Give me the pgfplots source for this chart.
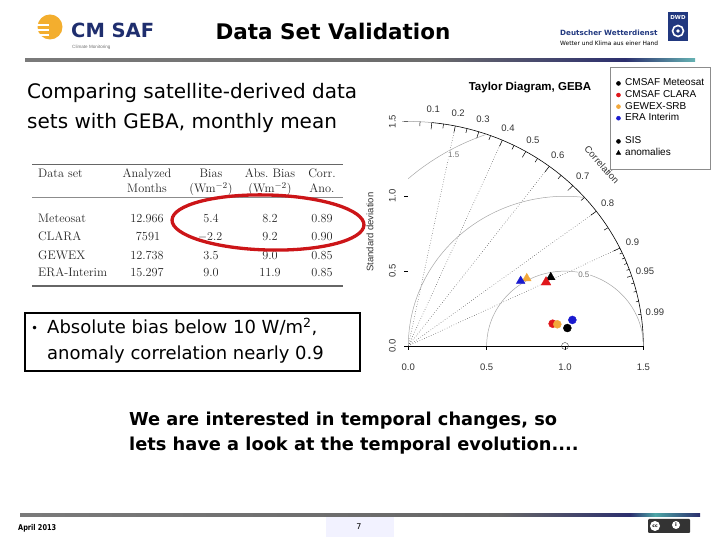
\documentclass[border=0pt]{standalone}
\usepackage{pgfplots}
\pgfplotsset{compat=1.18}
\usepackage{fontspec}
\newfontfamily\vsans{DejaVu Sans}
\newfontfamily\asans{Liberation Sans}
\definecolor{cmnavy}{HTML}{1F2E6E}
\definecolor{dwdblue}{HTML}{21387F}
\definecolor{sunorange}{HTML}{F3AE2E}
\definecolor{barnavy}{HTML}{2C2F6E}
\definecolor{tred}{HTML}{E0161B}
\definecolor{torange}{HTML}{F2A83A}
\definecolor{tblue}{HTML}{1A1ACF}
\definecolor{ellred}{HTML}{CC1518}

\begin{document}
\begin{tikzpicture}[x=1pt,y=1pt]
\path[use as bounding box] (0,0) rectangle (720,540);

% slide, drawn with y running down from the top edge
\begin{scope}[shift={(0,540)}, yscale=-1]
  % header
  \fill[sunorange] (50,27) circle (12.5);
  \foreach \yy in {24,29,34} \fill[white] (36,\yy) rectangle (49,{\yy+1.6});
  \node[anchor=base west, inner sep=0, text=cmnavy, font=\vsans\bfseries\fontsize{19.5}{20}\selectfont] at (71,37.5) {CM SAF};
  \node[anchor=base west, inner sep=0, text=black!55, font=\asans\fontsize{4.6}{5}\selectfont] at (72,49) {Climate Monitoring};
  \node[anchor=base, inner sep=0, font=\vsans\bfseries\fontsize{21.5}{22}\selectfont] at (333,40) {Data Set Validation};
  \node[anchor=base west, inner sep=0, text=dwdblue, font=\vsans\bfseries\fontsize{7.2}{8}\selectfont] at (560,36) {Deutscher Wetterdienst};
  \node[anchor=base west, inner sep=0, font=\vsans\fontsize{5.9}{6}\selectfont] at (560,45.5) {Wetter und Klima aus einer Hand};
  \fill[dwdblue] (668,12) rectangle (688,41);
  \node[inner sep=0, text=white, font=\vsans\bfseries\fontsize{5.5}{6}\selectfont] at (678,17.5) {DWD};
  \draw[white, line width=1.6pt] (678,31) circle (5.5);
  \fill[white] (678,31) circle (1.8);
  \shade[left color=black!52, right color=black!58] (25,58.5) rectangle (430,61.5);
  \shade[left color=black!58, right color=barnavy] (430,58.5) rectangle (625,61.5);
  \shade[left color=barnavy, right color=teal!60] (625,58.5) rectangle (695,61.5);

  % text on the left
  \node[anchor=base west, inner sep=0, font=\vsans\fontsize{20}{24}\selectfont] at (27,99) {Comparing satellite-derived data};
  \node[anchor=base west, inner sep=0, font=\vsans\fontsize{20}{24}\selectfont] at (27,129) {sets with GEBA, monthly mean};

  % table
  \draw[black!60, line width=1.2pt] (32,164.5) -- (343,164.5);
  \draw[black!45, line width=0.6pt] (32,197) -- (343,197);
  \draw[black!60, line width=1.2pt] (32,286) -- (343,286);
  \begin{scope}[every node/.style={inner sep=0, anchor=base, text=black!85, font=\fontsize{12.3}{14}\selectfont}]
    \node[anchor=base west] at (38,177.5) {Data set};
    \node at (147,177.5) {Analyzed};
    \node at (147,192.5) {Months};
    \node at (211,177.5) {Bias};
    \node at (211,192.5) {(Wm$^{-2}$)};
    \node at (270,177.5) {Abs.\ Bias};
    \node at (270,192.5) {(Wm$^{-2}$)};
    \node at (322,177.5) {Corr.};
    \node at (322,192.5) {Ano.};
    \node[anchor=base west] at (38,222.5) {Meteosat};
    \node[anchor=base west] at (38,241) {CLARA};
    \node[anchor=base west] at (38,259.3) {GEWEX};
    \node[anchor=base west] at (38,276.6) {ERA-Interim};
    \node at (147,222.5) {12.966};
    \node at (148,241) {7591};
    \node at (147,259.3) {12.738};
    \node at (147,276.6) {15.297};
    \node at (211,222.5) {5.4};
    \node at (210,241) {$-2.2$};
    \node at (211,259.3) {3.5};
    \node at (211,276.6) {9.0};
    \node at (270,222.5) {8.2};
    \node at (270,241) {9.2};
    \node at (270,259.3) {9.0};
    \node at (270,276.6) {11.9};
    \node at (322,222.5) {0.89};
    \node at (322,241) {0.90};
    \node at (322,259.3) {0.85};
    \node at (322,276.6) {0.85};
  \end{scope}
  \draw[ellred, line width=3.3pt] (268,222.5) ellipse [x radius=96pt, y radius=27.5pt, rotate=1.5];

  % bullet box
  \draw[black, line width=2pt] (25,313) rectangle (360,371);
  \node[anchor=base west, inner sep=0, font=\vsans\fontsize{12}{14}\selectfont] at (31,333) {•};
  \node[anchor=base west, inner sep=0, font=\vsans\fontsize{18}{22}\selectfont] at (47,333.5) {Absolute bias below 10 W/m\textsuperscript{2},};
  \node[anchor=base west, inner sep=0, font=\vsans\fontsize{18}{22}\selectfont] at (47,359.5) {anomaly correlation nearly 0.9};

  % bottom text
  \node[anchor=base west, inner sep=0, font=\vsans\bfseries\fontsize{17.8}{20}\selectfont] at (129,425.5) {We are interested in temporal changes, so};
  \node[anchor=base west, inner sep=0, font=\vsans\bfseries\fontsize{17.8}{20}\selectfont] at (129,450.5) {lets have a look at the temporal evolution....};

  % footer
  \shade[left color=black!52, right color=black!60] (20,514) rectangle (500,516.5);
  \shade[left color=black!60, right color=barnavy] (500,514) rectangle (630,516.5);
  \shade[left color=barnavy, right color=teal!70] (630,514) rectangle (655,516.5);
  \shade[left color=teal!70, right color=barnavy] (655,514) rectangle (700,516.5);
  \node[anchor=base west, inner sep=0, font=\vsans\bfseries\fontsize{8}{9}\selectfont] at (18,530.5) {\scalebox{0.82}[1]{April 2013}};
  \fill[blue!5] (326,517) rectangle (394,537);
  \node[inner sep=0, font=\vsans\fontsize{8}{9}\selectfont] at (359,527) {7};
  \fill[black!80, rounded corners=1pt] (648,519) rectangle (690,533);
  \fill[white] (655,526) circle (5);
  \node[inner sep=0, font=\vsans\bfseries\fontsize{4.5}{5}\selectfont] at (655,526) {cc};
  \fill[white] (676,525) circle (4);
  \node[inner sep=0, font=\vsans\bfseries\fontsize{5}{5}\selectfont] at (676,525) {i};
\end{scope}

% Taylor diagram
\begin{axis}[
  at={(408.3pt,194pt)}, anchor=south west,
  x=156.7pt, y=149.7pt,
  xmin=0, xmax=1.5, ymin=0, ymax=1.5,
  axis x line=bottom, axis y line=left,
  axis line style={-, black, line width=0.6pt},
  y axis line style={draw=none},
  xtick={0,0.5,1,1.5}, ytick={0,0.5,1,1.5},
  xticklabels={0.0,0.5,1.0,1.5}, yticklabels={0.0,0.5,1.0,1.5},
  /pgf/number format/assume math mode=true,
  tick align=outside, major tick length=4pt,
  tick style={black, line width=0.5pt},
  ticklabel style={font=\asans\fontsize{9.5}{11}\selectfont, text=black!80},
  xticklabel style={yshift=-10pt},
  yticklabel style={xshift=-5pt, rotate=90, anchor=south},
  clip=false,
  title={Taylor Diagram, GEBA},
  title style={at={(0.518,1.126)}, anchor=center, font=\asans\bfseries\fontsize{11.5}{13}\selectfont},
  ylabel={Standard deviation},
  ylabel style={at={(axis description cs:-0.163,0.507)}, anchor=center, font=\asans\fontsize{9.5}{11}\selectfont, text=black!80},
  legend style={at={(0.858,1.243)}, anchor=north west, draw=black!45, line width=0.5pt,
    font=\asans\fontsize{10}{11}\selectfont, inner xsep=5pt, inner ysep=10.5pt,
    nodes={text height=7pt, text depth=2pt, inner ysep=1.3pt, inner xsep=1.5pt}},
  legend cell align=left,
  legend image code/.code={\path (0pt,0pt) (8pt,0pt); \draw[#1] plot coordinates {(3pt,0pt)};},
]
% correlation lines and sd arcs
\draw[black!80, dotted, line width=0.5pt] (axis cs:0,0) -- (axis cs:0.3,1.4697);
\draw[black!80, dotted, line width=0.5pt] (axis cs:0,0) -- (axis cs:0.6,1.3748);
\draw[black!80, dotted, line width=0.5pt] (axis cs:0,0) -- (axis cs:0.9,1.2);
\draw[black!80, dotted, line width=0.5pt] (axis cs:0,0) -- (axis cs:1.2,0.9);
\draw[black!80, dotted, line width=0.5pt] (axis cs:0,0) -- (axis cs:1.35,0.6538);
\draw[black, line width=0.6pt] (axis cs:1.5,0) arc[start angle=0, end angle=84.26, x radius=235.05pt, y radius=224.55pt];
\draw[black!40, line width=0.5pt] (axis cs:0.15,1.4925) arc[start angle=84.26, end angle=91.5, x radius=235.05pt, y radius=224.55pt];
% centred RMS difference arcs
\draw[black!35, line width=0.5pt] (axis cs:1.5,0) arc[start angle=0, end angle=180, x radius=78.35pt, y radius=74.85pt];
\draw[black!35, line width=0.5pt] (axis cs:1.125,0.9922) arc[start angle=82.82, end angle=180, x radius=156.7pt, y radius=149.7pt];
\draw[black!35, line width=0.5pt] (axis cs:0.5,1.4142) arc[start angle=109.47, end angle=131.81, x radius=235.05pt, y radius=224.55pt];
\node[font=\asans\fontsize{8}{9}\selectfont, text=black!55, fill=white, inner sep=0.5pt] at (axis cs:1.12,0.474) {0.5};
\node[font=\asans\fontsize{8}{9}\selectfont, text=black!55, fill=white, inner sep=0.5pt] at (axis cs:0.29,1.28) {1.5};
% correlation ticks
\pgfplotsinvokeforeach{0.1,0.2,0.3,0.4,0.5,0.6,0.7,0.8,0.9}{
  \draw[black, line width=0.5pt] (axis cs:{1.5*#1},{1.5*sqrt(1-(#1)^2)}) -- (axis cs:{1.455*#1},{1.455*sqrt(1-(#1)^2)});
}
\pgfplotsinvokeforeach{0.05,0.15,0.25,0.35,0.45,0.55,0.65,0.75,0.85,0.95}{
  \draw[black, line width=0.5pt] (axis cs:{1.5*#1},{1.5*sqrt(1-(#1)^2)}) -- (axis cs:{1.47*#1},{1.47*sqrt(1-(#1)^2)});
}
\pgfplotsinvokeforeach{0.91,0.92,0.93,0.94,0.96,0.97,0.98,0.99}{
  \draw[black, line width=0.5pt] (axis cs:{1.5*#1},{1.5*sqrt(1-(#1)^2)}) -- (axis cs:{1.482*#1},{1.482*sqrt(1-(#1)^2)});
}
\pgfplotsinvokeforeach{0.1,0.2,0.3,0.4,0.5,0.6,0.7,0.8,0.9,0.95,0.99}{
  \node[font=\asans\fontsize{9.5}{11}\selectfont, text=black!80, inner sep=0] at (axis cs:{1.59*#1},{1.59*sqrt(1-(#1)^2)}) {#1};
}
\node[font=\asans\fontsize{9.5}{11}\selectfont, text=black!80, rotate=-48, inner sep=0] at (axis cs:1.235,1.21) {Correlation};

% observation
\addplot[only marks, mark=o, mark size=3.5pt, black!75, forget plot] coordinates {(1.0,0.0)};

% data: anomalies (triangles) and SIS (circles)
\addplot[only marks, mark=triangle*, mark size=5pt, black, forget plot] coordinates {(0.909,0.459)};
\addplot[only marks, mark=*, mark size=4pt, black, forget plot] coordinates {(1.015,0.120)};
\addplot[only marks, mark=triangle*, mark size=5.6pt, tred, forget plot] coordinates {(0.879,0.426)};
\addplot[only marks, mark=*, mark size=4pt, tred, forget plot] coordinates {(0.921,0.149)};
\addplot[only marks, mark=triangle*, mark size=5pt, torange, forget plot] coordinates {(0.756,0.452)};
\addplot[only marks, mark=*, mark size=4pt, torange, forget plot] coordinates {(0.951,0.145)};
\addplot[only marks, mark=triangle*, mark size=5pt, tblue, forget plot] coordinates {(0.717,0.434)};
\addplot[only marks, mark=*, mark size=4pt, tblue, forget plot] coordinates {(1.047,0.174)};

% legend
\addlegendimage{only marks, mark=*, mark size=2pt, black}
\addlegendentry{CMSAF Meteosat}
\addlegendimage{only marks, mark=*, mark size=2pt, tred}
\addlegendentry{CMSAF CLARA}
\addlegendimage{only marks, mark=*, mark size=2pt, torange}
\addlegendentry{GEWEX-SRB}
\addlegendimage{only marks, mark=*, mark size=2pt, tblue}
\addlegendentry{ERA Interim}
\addlegendimage{empty legend}
\addlegendentry{}
\addlegendimage{only marks, mark=*, mark size=2pt, black}
\addlegendentry{SIS}
\addlegendimage{only marks, mark=triangle*, mark size=2.5pt, black}
\addlegendentry{anomalies}
\end{axis}
\end{tikzpicture}
\end{document}
